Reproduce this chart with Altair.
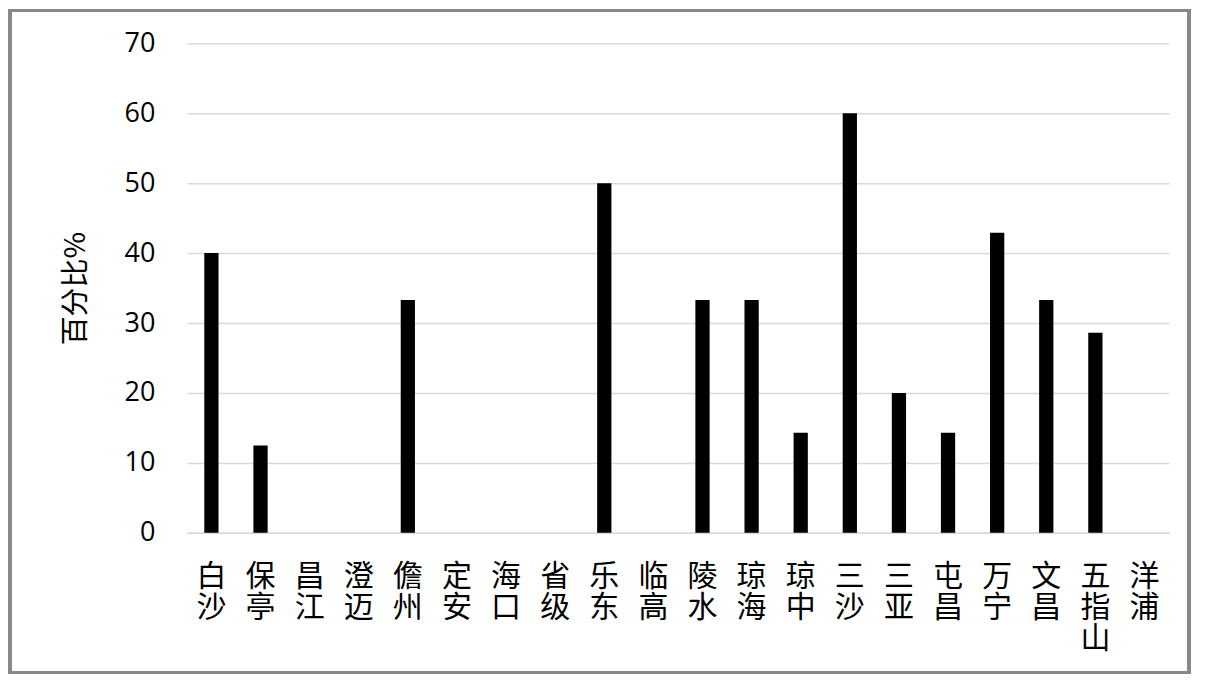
import altair as alt
import pandas as pd

regions = ["白沙", "保亭", "昌江", "澄迈", "儋州", "定安", "海口", "省级", "乐东", "临高",
           "陵水", "琼海", "琼中", "三沙", "三亚", "屯昌", "万宁", "文昌", "五指山", "洋浦"]
percent = [40, 12.5, 0, 0, 33.3, 0, 0, 0, 50, 0,
           33.3, 33.3, 14.3, 60, 20, 14.3, 42.9, 33.3, 28.6, 0]
y_ticks = [0, 10, 20, 30, 40, 50, 60, 70]

df = pd.DataFrame({"region": regions, "pct": percent})

W, H = 983, 490

bars = alt.Chart(df).mark_bar(color="black").encode(
    x=alt.X("region:N", sort=regions, scale=alt.Scale(paddingInner=0.71, paddingOuter=0.355),
            axis=alt.Axis(title=None, labelAngle=0, labelExpr="split(datum.label, '')",
                          labelBaseline="top", labelLineHeight=31, labelPadding=29,
                          labelFont="Noto Sans CJK SC", labelFontSize=30, labelColor="black",
                          ticks=False, domainColor="#d9d9d9", domainWidth=1.5)),
    y=alt.Y("pct:Q", scale=alt.Scale(domain=[0, 70], nice=False),
            axis=alt.Axis(title="百分比%", values=y_ticks, ticks=False, domain=False,
                          labelFont="Open Sans", labelFontSize=27, labelColor="black",
                          labelPadding=32, gridColor="#d9d9d9", gridWidth=1.5,
                          titleFont="Noto Sans CJK SC", titleFontSize=29, titleFontWeight="normal",
                          titleColor="black", titlePadding=34)),
)

border = alt.Chart(df).mark_rect(fill=None, stroke="#888888", strokeWidth=2.5).encode(
    x=alt.value(-177), x2=alt.value(W + 20), y=alt.value(-33), y2=alt.value(H + 140)
)

chart = alt.layer(border, bars).properties(
    width=W, height=H,
    padding={"left": 179, "top": 35, "right": 40, "bottom": 150},
    autosize=alt.AutoSizeParams(type="none"),
).configure_view(stroke=None)

chart.save("out.html", embed_options={"renderer": "svg", "actions": False})
